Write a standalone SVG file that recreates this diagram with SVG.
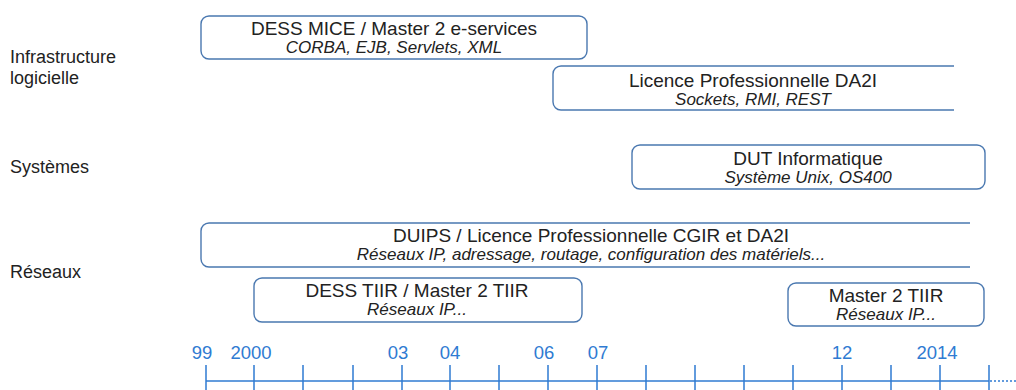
<svg xmlns="http://www.w3.org/2000/svg" width="1016" height="390" viewBox="0 0 1016 390">
<style>
.box{fill:#fff;stroke:#4a78b0;stroke-width:1.4}
.t{font-family:"Liberation Sans",Arial,sans-serif;font-size:19px;fill:#222;text-anchor:middle}
.s{font-family:"Liberation Sans",Arial,sans-serif;font-size:17px;font-style:italic;fill:#222;text-anchor:middle}
.cat{font-family:"Liberation Sans",Arial,sans-serif;font-size:18px;fill:#222}
.yr{font-family:"Liberation Sans",Arial,sans-serif;font-size:18.5px;fill:#2f7bd2;text-anchor:middle}
.ax{stroke:#2f7bd2;stroke-width:1.5;fill:none}
</style>
<rect width="1016" height="390" fill="#fff"/>
<g id="categories">
<text class="cat" x="10" y="63">Infrastructure</text>
<text class="cat" x="10" y="84">logicielle</text>
<text class="cat" x="10" y="173">Systèmes</text>
<text class="cat" x="10" y="278">Réseaux</text>
</g>
<g id="dess-mice">
<rect class="box" x="201" y="16" width="386" height="43" rx="8"/>
<text class="t" x="394" y="35">DESS MICE / Master 2 e-services</text>
<text class="s" x="394" y="53">CORBA, EJB, Servlets, XML</text>
</g>
<g id="licence-da2i">
<path class="box" d="M954,66 H561 A8,8 0 0 0 553,74 V102 A8,8 0 0 0 561,110 H954"/>
<text class="t" x="753" y="87">Licence Professionnelle DA2I</text>
<text class="s" x="753" y="105">Sockets, RMI, REST</text>
</g>
<g id="dut">
<rect class="box" x="632" y="145" width="353" height="44" rx="8"/>
<text class="t" x="808" y="165">DUT Informatique</text>
<text class="s" x="808" y="183">Système Unix, OS400</text>
</g>
<g id="duips">
<path class="box" d="M970,223 H209 A8,8 0 0 0 201,231 V259 A8,8 0 0 0 209,267 H970"/>
<text class="t" x="591" y="242">DUIPS / Licence Professionnelle CGIR et DA2I</text>
<text class="s" x="591" y="260">Réseaux IP, adressage, routage, configuration des matériels...</text>
</g>
<g id="dess-tiir">
<rect class="box" x="254" y="278" width="328" height="44" rx="8"/>
<text class="t" x="417" y="297">DESS TIIR / Master 2 TIIR</text>
<text class="s" x="417" y="315">Réseaux IP...</text>
</g>
<g id="master-tiir">
<rect class="box" x="788" y="283" width="196" height="43" rx="8"/>
<text class="t" x="886" y="302">Master 2 TIIR</text>
<text class="s" x="886" y="320">Réseaux IP...</text>
</g>
<g id="timeline">
<line class="ax" x1="206" y1="381" x2="989" y2="381"/>
<line class="ax" x1="990" y1="381" x2="1016" y2="381" stroke-dasharray="2,2" stroke-width="1.2"/>
<path class="ax" d="M206,365V390 M254,365V390 M303,365V390 M353,365V390 M402,365V390 M499,365V390 M548,365V390 M597,365V390 M646,365V390 M695,365V390 M744,365V390 M793,365V390 M842,365V390 M891,365V390 M940,365V390 M989,365V390"/>
<path class="ax" d="M450,365V390" stroke-width="2.3"/>
<text class="yr" x="202" y="359">99</text>
<text class="yr" x="251" y="359">2000</text>
<text class="yr" x="398" y="359">03</text>
<text class="yr" x="450" y="359">04</text>
<text class="yr" x="544" y="359">06</text>
<text class="yr" x="598" y="359">07</text>
<text class="yr" x="842" y="359">12</text>
<text class="yr" x="937" y="359">2014</text>
</g>
</svg>
